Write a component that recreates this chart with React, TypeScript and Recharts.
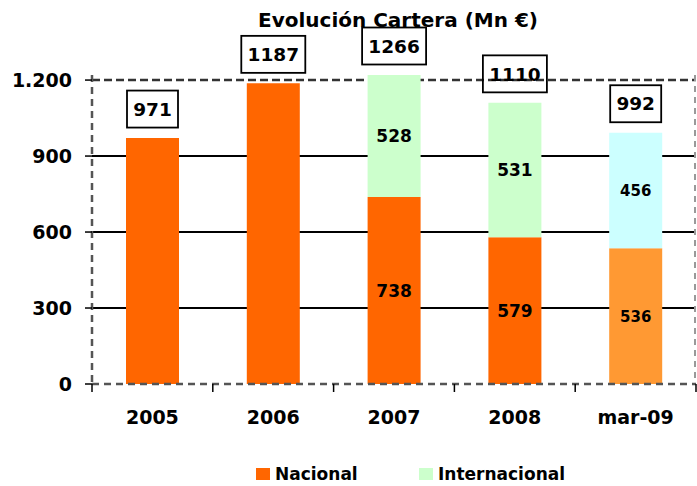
import React from 'react'
import {
  BarChart, Bar, XAxis, YAxis, CartesianGrid, Cell, LabelList, Legend,
} from 'recharts'

const FONT = "'DejaVu Sans', sans-serif"

// datos
const CATEGORIES = ['2005', '2006', '2007', '2008', 'mar-09']
const NACIONAL = [971, 1187, 738, 579, 536]
const INTERNACIONAL = [0, 0, 528, 531, 456]
const TOTALES = [971, 1187, 1266, 1110, 992]
const Y_TICKS = [0, 300, 600, 900, 1200]
const GRID_SOLID = [300, 600, 900]
const GRID_DASHED = [1200]

const NAC_COLORS = ['#FF6600', '#FF6600', '#FF6600', '#FF6600', '#FF9933']
const INT_COLORS = ['#CCFFCC', '#CCFFCC', '#CCFFCC', '#CCFFCC', '#CCFFFF']

const data = CATEGORIES.map((c, i) => ({
  name: c,
  nacional: NACIONAL[i],
  internacional: INTERNACIONAL[i],
}))

const W = 697
const H = 486
const MARGIN = { top: 75, right: 1, left: 0, bottom: 0 }
const Y_W = 92
const Y_MAX = 1220
const BAND = (W - MARGIN.left - MARGIN.right - Y_W) / CATEGORIES.length

function fmtMiles(v: number) {
  return String(v).replace(/\B(?=(\d{3})+(?!\d))/g, '.')
}

function XTick(props: any) {
  const { x, y, payload, index } = props
  const last = index === CATEGORIES.length - 1
  return (
    <g>
      <line x1={x - BAND / 2} x2={x - BAND / 2} y1={y - 8} y2={y} stroke="#000" strokeWidth={1.5} />
      {last && <line x1={x + BAND / 2} x2={x + BAND / 2} y1={y - 8} y2={y} stroke="#000" strokeWidth={1.5} />}
      <text x={x} y={y + 32} textAnchor="middle" fontFamily={FONT} fontWeight={700} fontSize={19} fill="#000">
        {payload.value}
      </text>
    </g>
  )
}

// etiqueta interior Nacional + recuadro con el total encima de la pila
function NacLabel(props: any) {
  const { x, y, width, height, value, index } = props
  const cx = x + width / 2
  const total = TOTALES[index]
  const stackTop = y - INTERNACIONAL[index] * (height / value)
  const top = Math.max(stackTop, MARGIN.top)
  const boxW = String(total).length * 13 + 12
  const boxH = 37
  const boxCy = top - 29
  return (
    <g>
      {INTERNACIONAL[index] > 0 && (
        <text x={cx} y={y + height / 2} dy="0.36em" textAnchor="middle"
          fontFamily={FONT} fontWeight={700} fontSize={index === 4 ? 15 : 17} fill="#000">
          {value}
        </text>
      )}
      <rect x={cx - boxW / 2} y={boxCy - boxH / 2} width={boxW} height={boxH}
        fill="none" stroke="#000" strokeWidth={1.8} />
      <text x={cx} y={boxCy} dy="0.36em" textAnchor="middle"
        fontFamily={FONT} fontWeight={700} fontSize={18.5} fill="#000">
        {total}
      </text>
    </g>
  )
}

function IntLabel(props: any) {
  const { x, y, width, height, value } = props
  if (!value) return null
  const i = INTERNACIONAL.indexOf(value)
  return (
    <text x={x + width / 2} y={y + height / 2} dy="0.36em" textAnchor="middle"
      fontFamily={FONT} fontWeight={700} fontSize={i === 4 ? 15 : 17} fill="#000">
      {value}
    </text>
  )
}

function LegendBox() {
  const item = (color: string, label: string, w: number) => (
    <div style={{ display: 'flex', alignItems: 'center', width: w }}>
      <span style={{ display: 'inline-block', width: 14, height: 12, background: color, marginRight: 5 }} />
      <span style={{ fontFamily: FONT, fontWeight: 700, fontSize: 17, color: '#000' }}>{label}</span>
    </div>
  )
  return (
    <div style={{ height: 30, display: 'flex', alignItems: 'center', paddingLeft: 256 }}>
      {item('#FF6600', 'Nacional', 163)}
      {item('#CCFFCC', 'Internacional', 200)}
    </div>
  )
}

const yPos = (yAxis: any, offset: any, v: number) =>
  yAxis && typeof yAxis.scale === 'function'
    ? yAxis.scale(v)
    : offset.top + offset.height * (1 - v / Y_MAX)

export default function App() {
  return (
    <div style={{ position: 'absolute', left: 0, top: 0, width: W, height: H, background: '#fff' }}>
      <div style={{
        position: 'absolute', left: 398, top: 10, transform: 'translateX(-50%)', whiteSpace: 'nowrap',
        fontFamily: FONT, fontWeight: 700, fontSize: 20, lineHeight: '20px', color: '#000',
      }}>
        Evolución Cartera (Mn €)
      </div>
      <BarChart width={W} height={H} data={data} margin={MARGIN} barSize={53}>
        <CartesianGrid
          vertical={false}
          stroke="#000"
          strokeWidth={2}
          horizontalCoordinatesGenerator={({ yAxis, offset }: any) => GRID_SOLID.map(v => yPos(yAxis, offset, v))}
        />
        <CartesianGrid
          vertical={false}
          stroke="#333"
          strokeWidth={2.5}
          strokeDasharray="8 4"
          horizontalCoordinatesGenerator={({ yAxis, offset }: any) => GRID_DASHED.map(v => yPos(yAxis, offset, v))}
        />
        <CartesianGrid
          horizontal={false}
          stroke="#999"
          strokeWidth={2}
          strokeDasharray="6 5"
          verticalCoordinatesGenerator={({ offset }: any) => [offset.left + offset.width - 1]}
        />
        <XAxis
          dataKey="name"
          height={72}
          tickSize={8}
          tickMargin={0}
          tickLine={false}
          axisLine={{ stroke: '#555', strokeWidth: 2.5, strokeDasharray: '7 5' }}
          tick={<XTick />}
          interval={0}
        />
        <YAxis
          width={Y_W}
          domain={[0, Y_MAX]}
          ticks={Y_TICKS}
          allowDataOverflow
          tickSize={7}
          tickMargin={13}
          tickFormatter={fmtMiles}
          tickLine={{ stroke: '#000', strokeWidth: 1.5 }}
          axisLine={{ stroke: '#555', strokeWidth: 2.5, strokeDasharray: '7 5' }}
          tick={{ fill: '#000', fontFamily: FONT, fontWeight: 700, fontSize: 19 }}
        />
        <Legend verticalAlign="bottom" content={<LegendBox />} wrapperStyle={{ bottom: -3 }} />
        <Bar dataKey="nacional" stackId="a" isAnimationActive={false}>
          {data.map((d, i) => <Cell key={d.name} fill={NAC_COLORS[i]} />)}
          <LabelList dataKey="nacional" content={<NacLabel />} />
        </Bar>
        <Bar dataKey="internacional" stackId="a" isAnimationActive={false}>
          {data.map((d, i) => <Cell key={d.name} fill={INT_COLORS[i]} />)}
          <LabelList dataKey="internacional" content={<IntLabel />} />
        </Bar>
      </BarChart>
    </div>
  )
}
